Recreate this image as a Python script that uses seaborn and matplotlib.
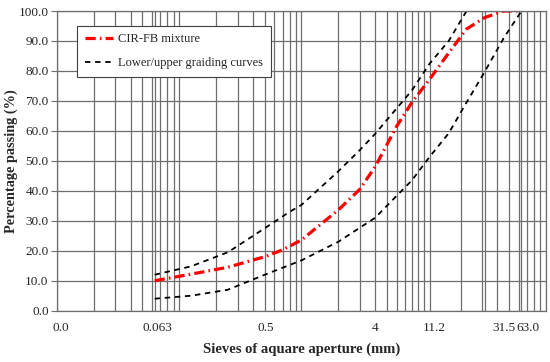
import numpy as np
import pandas as pd
import matplotlib
matplotlib.use("Agg")
import matplotlib.pyplot as plt
import matplotlib.transforms as mtransforms
from matplotlib.ticker import LogLocator, NullFormatter
import seaborn as sns

# sieve sizes (mm) and percentage passing
sieves_mix = [0.063, 0.125, 0.25, 0.5, 0.7, 1, 2, 3, 4, 6, 8, 11.2, 16, 22.4, 31.5, 45, 63]
mix = [10.0, 12.2, 14.5, 18.0, 20.3, 23.6, 33.6, 40.5, 48.0, 61.5, 69.5, 77.3, 86.0, 94.0, 97.8, 100.0, 100.0]

sieves_upper = [0.063, 0.125, 0.25, 0.5, 0.8, 1, 2, 3, 4, 8, 11.2, 16, 22.4]
upper = [12.0, 14.8, 19.5, 27.5, 33.0, 35.3, 46.5, 53.6, 59.0, 73.5, 82.5, 90.0, 100.0]

sieves_lower = [0.063, 0.125, 0.25, 0.5, 1, 2, 4, 8, 11.2, 16, 22.4, 31.5, 45, 63]
lower = [4.0, 5.0, 7.0, 12.0, 16.8, 23.0, 31.0, 43.5, 51.4, 59.2, 69.5, 79.7, 90.9, 100.0]

xtick_vals = [0.01, 0.063, 0.5, 4, 11.2, 31.5, 63]
xtick_labels = ["0.0", "0.063", "0.5", "4", "11.2", "31.5", "63.0"]
yticks = np.arange(0, 101, 10)

sns.set_style("white")
plt.rcParams['font.family'] = ['Liberation Serif', 'DejaVu Serif']

fig = plt.figure(figsize=(5.5, 3.62), dpi=100)
ax = fig.add_axes([0.1036, 0.1417, 0.8891, 0.8279])

sns.lineplot(x=sieves_mix, y=mix, ax=ax, color="#ff0000", linewidth=2.3,
             linestyle=(0, (3.2, 1.3, 0.5, 1.3)), label="CIR-FB mixture")
sns.lineplot(x=sieves_upper, y=upper, ax=ax, color="black", linewidth=1.3,
             linestyle=(0, (3, 2.6)), label="Lower/upper graiding curves")
sns.lineplot(x=sieves_lower, y=lower, ax=ax, color="black", linewidth=1.3,
             linestyle=(0, (3, 2.6)))

ax.set_xscale("log")
ax.set_xlim(0.01, 100)
ax.set_ylim(0, 100)

ax.xaxis.set_minor_locator(LogLocator(base=10, subs=np.arange(1, 10), numticks=20))
ax.xaxis.set_minor_formatter(NullFormatter())
ax.grid(True, which="both", axis="x", color="#6e6e6e", linewidth=0.9)
ax.grid(True, which="major", axis="y", color="#6e6e6e", linewidth=0.9)
ax.set_axisbelow(True)

ax.set_xticks(xtick_vals)
ax.set_xticklabels(xtick_labels)
ax.set_yticks(yticks)
ax.set_yticklabels([f"{v:.1f}" for v in yticks])
ax.tick_params(axis="x", which="both", length=0, labelsize=9.5, pad=8)
ax.tick_params(axis="y", length=4, color="#6e6e6e", labelsize=9.5, pad=2, left=True)

# nudge the crowded labels at the right end like the original
for lab, dx in zip(ax.get_xticklabels(), [3, 2, 1, 0, 3, 14, 5]):
    lab.set_transform(lab.get_transform() +
                      mtransforms.ScaledTranslation(dx / 72, 0, fig.dpi_scale_trans))

for s in ax.spines.values():
    s.set_color("#6e6e6e")
    s.set_linewidth(0.9)

ax.set_xlabel("Sieves of aquare aperture (mm)", fontsize=10.5, fontweight="bold")
ax.xaxis.set_label_coords(0.5, -0.105)
ax.set_ylabel("Percentage passing (%)", fontsize=10.3, fontweight="bold")
ax.yaxis.set_label_coords(-0.08, 0.5)

leg = ax.legend(loc="upper left", bbox_to_anchor=(0.041, 0.951), borderaxespad=0,
                fontsize=9, frameon=True, fancybox=False, framealpha=1,
                edgecolor="#404040", handlelength=2.3, labelspacing=0.95,
                borderpad=0.6, handletextpad=0.4)
leg.get_frame().set_linewidth(0.8)

fig.savefig("out.png", dpi=100)
